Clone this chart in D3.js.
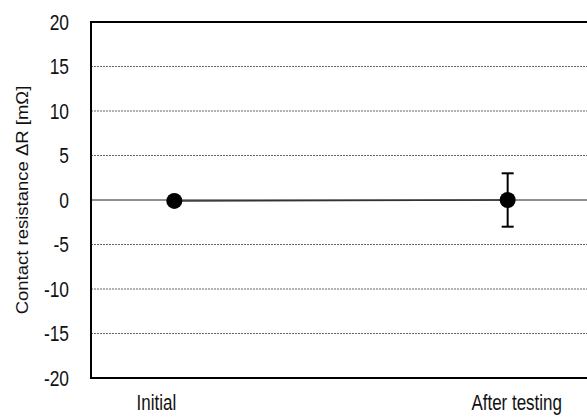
<!DOCTYPE html>
<html>
<head>
<meta charset="utf-8">
<script src="https://cdn.jsdelivr.net/npm/d3@7"></script>
<style>
  body { margin: 0; background: #fff; }
  svg { display: block; font-family: "Liberation Sans", Arial, sans-serif; }
</style>
</head>
<body>
<svg id="chart" width="587" height="417"></svg>
<script>
// Chart data
const categories = ['Initial', 'After testing'];
const values = [-0.1, 0];
const errors = [0, 3];
const yTicks = [-20, -15, -10, -5, 0, 5, 10, 15, 20];

const svg = d3.select('#chart');
const margin = { top: 22, left: 91, bottom: 39 };
const height = 417 - margin.top - margin.bottom;
const plotRight = 591;
const narrow = 0.79; // squeeze text horizontally, the source font is a narrow face

const x = d3.scalePoint().domain(categories).range([margin.left, plotRight]).padding(0.25);
const y = d3.scaleLinear().domain([-20, 20]).range([margin.top + height, margin.top]);

// grid lines (dashed), zero line solid
svg.append('g')
  .selectAll('line')
  .data(yTicks.filter(t => t !== 0 && t !== 20 && t !== -20))
  .join('line')
  .attr('x1', margin.left).attr('x2', plotRight)
  .attr('y1', d => y(d)).attr('y2', d => y(d))
  .attr('stroke', '#666')
  .attr('stroke-width', 1)
  .attr('stroke-dasharray', '2,1');

svg.append('line')
  .attr('x1', margin.left).attr('x2', plotRight)
  .attr('y1', y(0)).attr('y2', y(0))
  .attr('stroke', '#222')
  .attr('stroke-width', 1);

// frame: left, top, bottom
svg.append('path')
  .attr('d', `M${plotRight},${y(20)}H${margin.left}V${y(-20)}H${plotRight}`)
  .attr('fill', 'none')
  .attr('stroke', '#000')
  .attr('stroke-width', 2);

// y tick labels
svg.append('g')
  .selectAll('text')
  .data(yTicks)
  .join('text')
  .attr('transform', d => `translate(69,${y(d)}) scale(${narrow},1)`)
  .attr('dy', '0.36em')
  .attr('text-anchor', 'end')
  .attr('font-size', 22)
  .attr('fill', '#111')
  .text(d => d);

// y axis title
svg.append('text')
  .attr('transform', `translate(22,${y(0)}) rotate(-90) scale(1,0.92)`)
  .attr('dy', '0.36em')
  .attr('text-anchor', 'middle')
  .attr('font-size', 18.5)
  .attr('fill', '#111')
  .text('Contact resistance ΔR [mΩ]');

// x labels
const labelShift = [-18, 9];
svg.append('g')
  .selectAll('text')
  .data(categories)
  .join('text')
  .attr('transform', (d, i) => `translate(${x(d) + labelShift[i]},410) scale(${narrow},1)`)
  .attr('text-anchor', 'middle')
  .attr('font-size', 21.5)
  .attr('fill', '#111')
  .text(d => d);

// data line
const pts = categories.map((c, i) => ({ c, v: values[i], e: errors[i] }));
svg.append('path')
  .datum(pts)
  .attr('fill', 'none')
  .attr('stroke', '#333')
  .attr('stroke-width', 1.5)
  .attr('d', d3.line().x(d => x(d.c)).y(d => y(d.v)));

// error bars
const eb = svg.append('g')
  .selectAll('g')
  .data(pts.filter(d => d.e > 0))
  .join('g')
  .attr('stroke', '#000')
  .attr('stroke-width', 2);
eb.append('line')
  .attr('x1', d => x(d.c)).attr('x2', d => x(d.c))
  .attr('y1', d => y(d.v + d.e)).attr('y2', d => y(d.v - d.e));
eb.append('line')
  .attr('x1', d => x(d.c) - 6).attr('x2', d => x(d.c) + 6)
  .attr('y1', d => y(d.v + d.e)).attr('y2', d => y(d.v + d.e));
eb.append('line')
  .attr('x1', d => x(d.c) - 6).attr('x2', d => x(d.c) + 6)
  .attr('y1', d => y(d.v - d.e)).attr('y2', d => y(d.v - d.e));

// points
svg.append('g')
  .selectAll('circle')
  .data(pts)
  .join('circle')
  .attr('cx', d => x(d.c))
  .attr('cy', d => y(d.v))
  .attr('r', 8)
  .attr('fill', '#000');
</script>
</body>
</html>
